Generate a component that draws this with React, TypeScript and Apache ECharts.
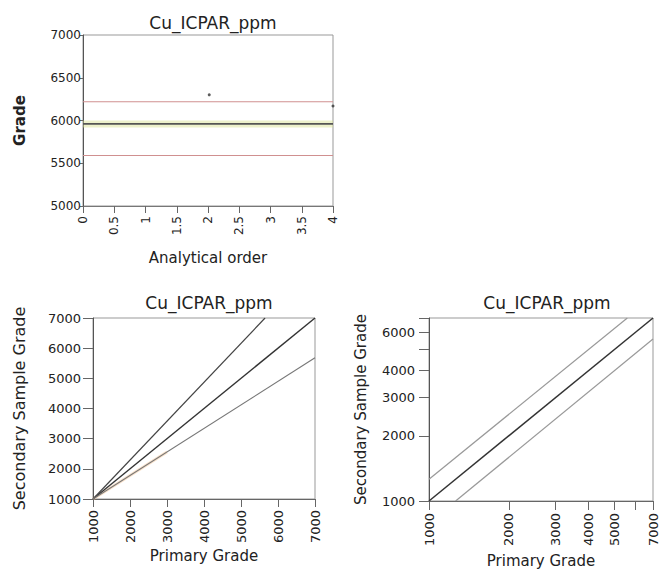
import React, { useEffect, useRef } from "react";
import * as echarts from "echarts";

// ---------- data ----------
const chartTitle = "Cu_ICPAR_ppm";

// Top chart: grade vs analytical order (control chart)
const orderRange = [0, 4];
const orderTicks = [0, 0.5, 1, 1.5, 2, 2.5, 3, 3.5, 4];
const gradeTicks = [5000, 5500, 6000, 6500, 7000];
const upperLimit = 6220;
const meanGrade = 5960;
const lowerLimit = 5590;
const outlierOrder = [2.02, 4.0];
const outlierGrade = [6300, 6170];

// Bottom-left: linear scatter of secondary vs primary grade
const linTicks = [1000, 2000, 3000, 4000, 5000, 6000, 7000];
const oneToOnePrimary = [1000, 7000];
const oneToOneSecondary = [1000, 7000];
const linUpperPrimary = [1000, 5650];
const linUpperSecondary = [1000, 7000];
const linLowerPrimary = [1000, 7000];
const linLowerSecondary = [1000, 5680];
const linFaintPrimary = [1000, 3000];
const linFaintSecondary = [1000, 2560];

// Bottom-right: log-log plot
const logXTicks = [1000, 2000, 3000, 4000, 5000, 6000, 7000];
const logXLabels = [1000, 2000, 3000, 4000, 5000, 7000];
const logYTicks = [1000, 2000, 3000, 4000, 5000, 6000, 7000];
const logYLabels = [1000, 2000, 3000, 4000, 6000];
const logUpperPrimary = [1000, 5600];
const logUpperSecondary = [1260, 7000];
const logLowerPrimary = [1260, 7000];
const logLowerSecondary = [1000, 5600];

// ---------- helpers ----------
const FONT = "DejaVu Sans";
const TXT = "#222";
const pairs = (xs: number[], ys: number[]) => xs.map((x, i) => [x, ys[i]]);
const logPairs = (xs: number[], ys: number[]) =>
  xs.map((x, i) => [Math.log10(x), Math.log10(ys[i])]);
const plain = (v: number) => String(v);
const fromLog = (v: number) => String(Math.round(Math.pow(10, v)));

export default function App() {
  const ref = useRef<HTMLDivElement>(null);
  useEffect(() => {
    if (!ref.current) return;
    const chart = echarts.init(ref.current, undefined, { renderer: "svg" });

    const titleStyle = { fontFamily: FONT, fontSize: 17, fontWeight: "normal" as const, color: TXT };
    const labelBase = { fontFamily: FONT, color: TXT };
    const nameBase = { fontFamily: FONT, color: TXT };

    const option: any = {
      animation: false,
      backgroundColor: "#fff",
      title: [
        { text: chartTitle, left: 208, top: 9, textAlign: "center", textStyle: titleStyle },
        { text: chartTitle, left: 204, top: 289, textAlign: "center", textStyle: titleStyle },
        { text: chartTitle, left: 542, top: 289, textAlign: "center", textStyle: titleStyle },
      ],
      grid: [
        { left: 83, top: 35, width: 250, height: 171, show: true, borderColor: "#999", borderWidth: 1, outerBoundsMode: "none" },
        { left: 93, top: 318, width: 222, height: 181, show: true, borderColor: "#999", borderWidth: 1, outerBoundsMode: "none" },
        { left: 429, top: 318, width: 224, height: 183, show: true, borderColor: "#999", borderWidth: 1, outerBoundsMode: "none" },
      ],
      xAxis: [
        {
          gridIndex: 0, type: "value", min: orderRange[0], max: orderRange[1], interval: 0.5,
          name: "Analytical order", nameLocation: "middle", nameGap: 44,
          nameTextStyle: { ...nameBase, fontSize: 15 },
          axisLine: { show: true, lineStyle: { color: "#777", width: 1 } },
          axisTick: { show: true, length: 7, lineStyle: { color: "#666" }, customValues: orderTicks },
          axisLabel: { ...labelBase, fontSize: 12, rotate: 90, margin: 10, customValues: orderTicks, formatter: plain },
          splitLine: { show: false },
        },
        {
          gridIndex: 1, type: "value", min: 1000, max: 7000, interval: 1000,
          name: "Primary Grade", nameLocation: "middle", nameGap: 49,
          nameTextStyle: { ...nameBase, fontSize: 15 },
          axisLine: { show: true, lineStyle: { color: "#666", width: 1 } },
          axisTick: { show: true, length: 8, lineStyle: { color: "#666" }, customValues: linTicks },
          axisLabel: { ...labelBase, fontSize: 13, rotate: 90, margin: 11, customValues: linTicks, formatter: plain },
          splitLine: { show: false },
        },
        {
          gridIndex: 2, type: "value", min: Math.log10(1000), max: Math.log10(7000),
          name: "Primary Grade", nameLocation: "middle", nameGap: 52,
          nameTextStyle: { ...nameBase, fontSize: 15 },
          axisLine: { show: true, lineStyle: { color: "#666", width: 1 } },
          axisTick: { show: true, length: 9, lineStyle: { color: "#666" }, customValues: logXTicks.map(Math.log10) },
          axisLabel: {
            ...labelBase, fontSize: 13, rotate: 90, margin: 12,
            customValues: logXLabels.map(Math.log10),
            formatter: fromLog,
          },
          splitLine: { show: false },
        },
      ],
      yAxis: [
        {
          gridIndex: 0, type: "value", min: 5000, max: 7000, interval: 500,
          name: "Grade", nameLocation: "middle", nameGap: 56,
          nameTextStyle: { ...nameBase, fontSize: 15, fontWeight: "bold" },
          axisLine: { show: true, lineStyle: { color: "#555", width: 1 } },
          axisTick: { show: true, length: 3, lineStyle: { color: "#666" }, customValues: gradeTicks },
          axisLabel: { ...labelBase, fontSize: 12, margin: 2, customValues: gradeTicks, formatter: plain },
          splitLine: { show: false },
        },
        {
          gridIndex: 1, type: "value", min: 1000, max: 7000, interval: 1000,
          name: "Secondary Sample Grade", nameLocation: "middle", nameGap: 66,
          nameTextStyle: { ...nameBase, fontSize: 16 },
          axisLine: { show: true, lineStyle: { color: "#555", width: 1 } },
          axisTick: { show: true, length: 10, lineStyle: { color: "#666" }, customValues: linTicks },
          axisLabel: { ...labelBase, fontSize: 13, margin: 12, customValues: linTicks, formatter: plain },
          splitLine: { show: false },
        },
        {
          gridIndex: 2, type: "value", min: Math.log10(1000), max: Math.log10(7000),
          name: "Secondary Sample Grade", nameLocation: "middle", nameGap: 61,
          nameTextStyle: { ...nameBase, fontSize: 15 },
          axisLine: { show: true, lineStyle: { color: "#555", width: 1 } },
          axisTick: { show: true, length: 10, lineStyle: { color: "#666" }, customValues: logYTicks.map(Math.log10) },
          axisLabel: {
            ...labelBase, fontSize: 13, margin: 14,
            customValues: logYLabels.map(Math.log10),
            formatter: fromLog,
          },
          splitLine: { show: false },
        },
      ],
      series: [
        // top chart
        {
          type: "line", xAxisIndex: 0, yAxisIndex: 0, symbol: "none",
          data: pairs(orderRange, [meanGrade, meanGrade]),
          lineStyle: { color: "rgba(215,225,140,0.45)", width: 7 },
        },
        {
          type: "line", xAxisIndex: 0, yAxisIndex: 0, symbol: "none",
          data: pairs(orderRange, [meanGrade, meanGrade]),
          lineStyle: { color: "#555", width: 1.6 },
        },
        {
          type: "line", xAxisIndex: 0, yAxisIndex: 0, symbol: "none",
          data: pairs(orderRange, [upperLimit, upperLimit]),
          lineStyle: { color: "#d09090", width: 1.1 },
        },
        {
          type: "line", xAxisIndex: 0, yAxisIndex: 0, symbol: "none",
          data: pairs(orderRange, [lowerLimit, lowerLimit]),
          lineStyle: { color: "#d09090", width: 1.1 },
        },
        {
          type: "scatter", xAxisIndex: 0, yAxisIndex: 0, symbolSize: 3,
          data: pairs(outlierOrder, outlierGrade),
          itemStyle: { color: "#333" },
        },
        // bottom-left chart
        {
          type: "line", xAxisIndex: 1, yAxisIndex: 1, symbol: "none",
          data: pairs(linFaintPrimary, linFaintSecondary),
          lineStyle: { color: "rgba(245,190,140,0.45)", width: 3 },
        },
        {
          type: "line", xAxisIndex: 1, yAxisIndex: 1, symbol: "none",
          data: pairs(oneToOnePrimary, oneToOneSecondary),
          lineStyle: { color: "#333", width: 1.4 },
        },
        {
          type: "line", xAxisIndex: 1, yAxisIndex: 1, symbol: "none",
          data: pairs(linUpperPrimary, linUpperSecondary),
          lineStyle: { color: "#444", width: 1.2 },
        },
        {
          type: "line", xAxisIndex: 1, yAxisIndex: 1, symbol: "none",
          data: pairs(linLowerPrimary, linLowerSecondary),
          lineStyle: { color: "#777", width: 1.1 },
        },
        // bottom-right chart
        {
          type: "line", xAxisIndex: 2, yAxisIndex: 2, symbol: "none",
          data: logPairs(oneToOnePrimary, oneToOneSecondary),
          lineStyle: { color: "#333", width: 1.5 },
        },
        {
          type: "line", xAxisIndex: 2, yAxisIndex: 2, symbol: "none",
          data: logPairs(logUpperPrimary, logUpperSecondary),
          lineStyle: { color: "#999", width: 1.2 },
        },
        {
          type: "line", xAxisIndex: 2, yAxisIndex: 2, symbol: "none",
          data: logPairs(logLowerPrimary, logLowerSecondary),
          lineStyle: { color: "#999", width: 1.2 },
        },
      ],
    };

    chart.setOption(option);
    return () => chart.dispose();
  }, []);

  return <div ref={ref} style={{ width: 660, height: 579, position: "absolute", left: 0, top: 0 }} />;
}
